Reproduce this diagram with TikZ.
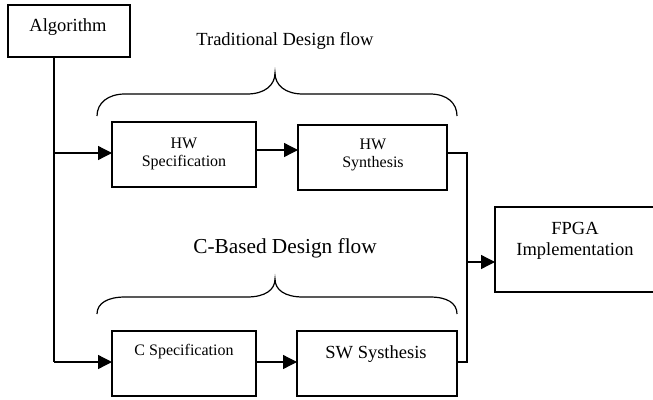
\documentclass[tikz,border=0pt]{standalone}
\usepackage{fontspec}
\setmainfont{Liberation Serif}
\usetikzlibrary{arrows.meta}
\begin{document}
\begin{tikzpicture}[x=1pt,y=-1pt,
  line width=1.3pt,
  box/.style={draw,line width=1.3pt,inner sep=0pt},
  boxtext/.style={font=\fontsize{16}{18}\selectfont,align=center},
  bigtext/.style={font=\fontsize{18.5}{21}\selectfont,align=center},
  flow/.style={-{Triangle[length=14pt,width=14pt]},line width=1.3pt},
  bracestyle/.style={line width=1.2pt}]
\useasboundingbox (0,0) rectangle (653,399);
\clip (0,0) rectangle (653,399);

% process boxes
\draw[box] (8,5) rectangle (130,57);
\node (alg) [bigtext] at (68,27) {Algorithm};
\coordinate (algB) at (54,57);

\draw[box] (112,122) rectangle (256,187);
\node (hwspec) [boxtext] at (184,154) {HW\\Specification};
\coordinate (hwspecL) at (112,153);
\coordinate (hwspecR) at (256,150);

\draw[box] (298,125) rectangle (447,190);
\node (hwsyn) [boxtext] at (373,155) {HW\\Synthesis};
\coordinate (hwsynL) at (298,150);
\coordinate (hwsynR) at (447,153);

\draw[box] (112,331) rectangle (256,396);
\node (cspec) [boxtext] at (184,352) {C Specification};
\coordinate (cspecL) at (112,362);
\coordinate (cspecR) at (256,362);

\draw[box] (297,331) rectangle (457,396);
\node (swsyn) [bigtext] at (376,354) {SW Systhesis};
\coordinate (swsynL) at (297,362);
\coordinate (swsynR) at (457,362);

\draw[box] (495,207) rectangle (660,292);
\node (fpga) [bigtext,font=\fontsize{18.5}{21}\selectfont] at (575,241) {FPGA\\Implementation};
\coordinate (fpgaL) at (495,262);

% flow labels
\node (trad) [bigtext] at (285,41) {Traditional Design flow};
\node (cbased) [font=\fontsize{21.3}{24}\selectfont] at (285,248) {C-Based Design flow};

% braces over the two flows
\draw[bracestyle] (97,116) .. controls (97,103) and (108,94) .. (125,94)
  -- (247,94) .. controls (265,94) and (275,85) .. (275,73)
  .. controls (275,85) and (285,94) .. (303,94)
  -- (430,94) .. controls (447,94) and (457,103) .. (457,116);
\draw[bracestyle] (97,314) .. controls (97,303) and (108,297) .. (125,297)
  -- (247,297) .. controls (265,297) and (275,290) .. (275,279)
  .. controls (275,290) and (285,297) .. (303,297)
  -- (430,297) .. controls (447,297) and (457,303) .. (457,314);

% connectors
\coordinate (trunk) at (54,362);
\coordinate (tap) at (54,153);
\coordinate (mergeTop) at (467,153);
\coordinate (mergeBot) at (467,362);
\coordinate (mergeMid) at (467,262);
\draw (algB) -- (trunk);
\draw[flow] (tap) -- (hwspecL);
\draw[flow] (trunk) -- (cspecL);
\draw[flow] (hwspecR) -- (hwsynL);
\draw[flow] (cspecR) -- (swsynL);
\draw (hwsynR) -- (mergeTop) -- (mergeBot) -- (swsynR);
\draw[flow] (mergeMid) -- (fpgaL);
\end{tikzpicture}
\end{document}
